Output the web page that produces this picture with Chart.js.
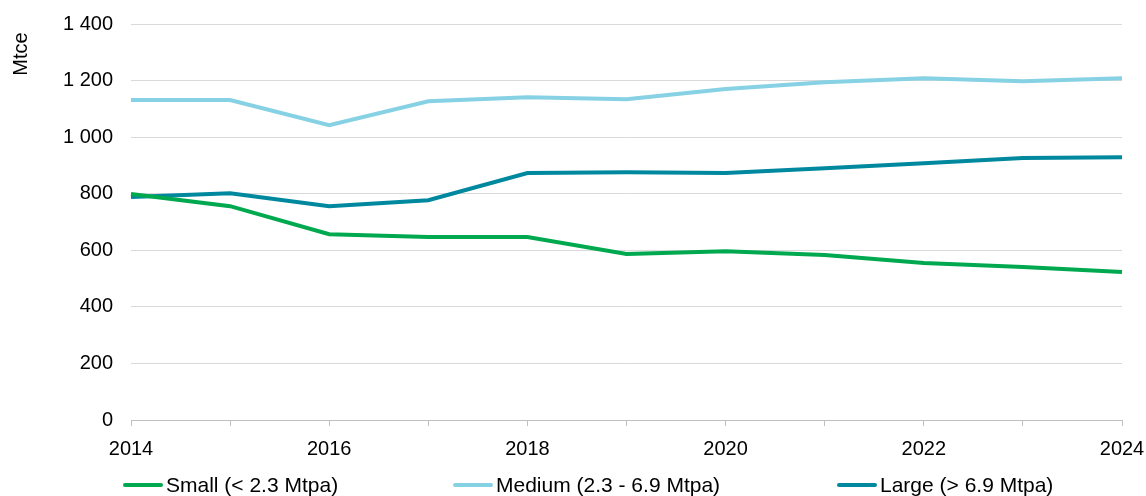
<!DOCTYPE html>
<html>
<head>
<meta charset="utf-8">
<script src="https://cdn.jsdelivr.net/npm/chart.js@4/dist/chart.umd.min.js"></script>
<style>
  html, body { margin: 0; padding: 0; background: #fff; }
  #wrap { position: relative; width: 1146px; height: 496px; }
  #legend { position: absolute; top: 473px; left: 0; width: 1146px; height: 24px;
    font: 21px "Liberation Sans", Arial, sans-serif; color: #000; }
  .item { position: absolute; top: 0; height: 24px; display: flex; align-items: center; white-space: nowrap; }
  .swatch { display: inline-block; width: 40px; height: 4px; border-radius: 2px; margin-right: 3px; }
</style>
</head>
<body>
<div id="wrap">
  <canvas id="c" width="1146" height="496"></canvas>
  <div id="legend"></div>
</div>
<script>
const years = ['2014', '2015', '2016', '2017', '2018', '2019', '2020', '2021', '2022', '2023', '2024'];
const small = [799, 756, 657, 647, 647, 587, 597, 583, 555, 541, 523];
const medium = [1131, 1131, 1042, 1127, 1141, 1134, 1170, 1194, 1208, 1198, 1208];
const large = [788, 802, 756, 777, 873, 876, 873, 890, 908, 926, 929];

const seriesNames = ['Small (< 2.3 Mtpa)', 'Medium (2.3 - 6.9 Mtpa)', 'Large (> 6.9 Mtpa)'];
const seriesColors = ['#00a94f', '#86d1e3', '#00889e'];
// legend item left edges (px)
const legendLeft = [123, 453, 837];

const font = { family: '"Liberation Sans", Arial, sans-serif', size: 20 };

const axisTitle = {
  id: 'axisTitle',
  afterDraw(chart) {
    const ctx = chart.ctx;
    ctx.save();
    ctx.font = '20px "Liberation Sans", Arial, sans-serif';
    ctx.fillStyle = '#000';
    ctx.translate(21, 54);
    ctx.rotate(-Math.PI / 2);
    ctx.textAlign = 'center';
    ctx.textBaseline = 'middle';
    ctx.fillText('Mtce', 0, 0);
    ctx.restore();
  }
};

const data = [small, medium, large];

new Chart(document.getElementById('c'), {
  type: 'line',
  data: {
    labels: years,
    datasets: data.map((d, i) => ({
      label: seriesNames[i],
      data: d,
      borderColor: seriesColors[i],
      backgroundColor: seriesColors[i],
      borderWidth: 4,
      pointRadius: 0,
      tension: 0
    }))
  },
  options: {
    responsive: false,
    animation: false,
    layout: { padding: { top: 24, right: 24, bottom: 36, left: 0 } },
    plugins: { legend: { display: false }, tooltip: { enabled: false } },
    scales: {
      x: {
        offset: false,
        grid: { drawOnChartArea: false, drawTicks: true, tickLength: 6, color: '#bfbfbf' },
        border: { color: '#bfbfbf', width: 1 },
        ticks: {
          autoSkip: false,
          maxRotation: 0,
          padding: 11,
          color: '#000',
          font: font,
          callback: function(v, i) { return i % 2 === 0 ? years[i] : ''; }
        },
        afterFit: function(s) { s.height = 40; s.paddingLeft = 0; s.paddingRight = 0; }
      },
      y: {
        min: 0,
        max: 1400,
        grid: { color: '#d9d9d9', drawTicks: false },
        border: { display: false },
        ticks: {
          stepSize: 200,
          padding: 18,
          color: '#000',
          font: font,
          callback: v => String(v).replace(/\B(?=(\d{3})+(?!\d))/g, ' ')
        },
        afterFit: function(s) { s.width = 131; s.paddingTop = 0; s.paddingBottom = 0; }
      }
    }
  },
  plugins: [axisTitle]
});

const legend = document.getElementById('legend');
seriesNames.forEach((name, i) => {
  const item = document.createElement('div');
  item.className = 'item';
  item.style.left = legendLeft[i] + 'px';
  const sw = document.createElement('span');
  sw.className = 'swatch';
  sw.style.background = seriesColors[i];
  item.appendChild(sw);
  item.appendChild(document.createTextNode(name));
  legend.appendChild(item);
});
</script>
</body>
</html>
